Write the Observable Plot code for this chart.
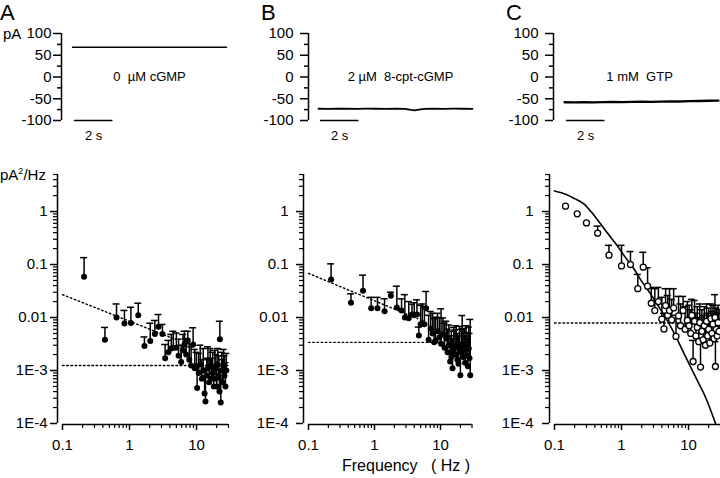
<!DOCTYPE html>
<html><head><meta charset="utf-8">
<script src="https://cdn.jsdelivr.net/npm/d3@7"></script>
<script src="https://cdn.jsdelivr.net/npm/@observablehq/plot@0.6"></script>
<style>
body{margin:0;background:#fff;}
#fig{position:relative;width:720px;height:478px;background:#fff;font-family:"Liberation Sans",Arial,Helvetica,sans-serif;color:#000;overflow:hidden}
#fig svg{position:absolute;overflow:visible}
.lbl{position:absolute;white-space:pre;line-height:1}
</style></head><body><div id="fig"></div>
<script>
// ---------- data: current traces (top row) ----------
const ampTicks = [-100, -50, 0, 50, 100];
const ampLabels = ["-100", "-50", "0", "50", "100"];
const ampMinor = [-75, -25, 25, 75];
const scaleBar = [0.1, 2.1];          // seconds
const scaleBarLabel = "2 s";

const traceTimeA = [0,0.5,1,1.5,2,2.5,3,3.5,4,4.5,5,5.5,6,6.5,7,7.5,8];
const traceA = [68.6,68.4,68.5,68.5,68.3,68.6,68.4,68.5,68.5,68.4,68.6,68.5,68.3,68.5,68.4,68.5,68.5];
const traceTimeB = [0,0.5,1,1.5,2,2.5,3,3.5,4,4.5,4.8,5.0,5.2,5.5,6,6.5,7,7.5,8];
const traceB = [-73,-73.2,-72.8,-73,-73.1,-72.9,-73,-73.2,-73,-73.3,-75.5,-76.5,-75,-73.5,-73,-73.1,-72.9,-73,-73.2];
const traceTimeC = [0,0.5,1,1.5,2,2.5,3,3.5,4,4.5,5,5.5,6,6.5,7,7.5,8];
const traceC = [-58,-58.4,-57.6,-58.2,-57.8,-57.5,-57.9,-57,-56.8,-57.2,-56.4,-56,-56.3,-55.5,-55.2,-54.6,-54.2];
const conditionA = "0  µM cGMP";
const conditionB = "2 µM  8-cpt-cGMP";
const conditionC = "1 mM  GTP";

// ---------- data: power spectra (bottom row) ----------
const yTicks = [1e-4, 1e-3, 0.01, 0.1, 1];
const yTickLabels = ["1E-4", "1E-3", "0.01", "0.1", "1"];
const xTicks = [0.1, 1, 10];
const xTickLabels = ["0.1", "1", "10"];

const freqA = [0.21,0.43,0.64,0.84,1.05,1.35,1.67,2.04,2.39,2.71,3.1,3.4,3.8,4.2,4.5,5.0,5.4,5.9,6.3,6.6,7.0,7.4,7.8,8.3,8.9,9.4,10.0,10.2,10.8,11.4,12.0,12.6,13.2,13.6,14.2,14.8,15.4,16.0,16.7,17.4,18.1,18.8,19.5,20.0,20.8,21.5,22.0,22.3,23.0,23.7,24.5,25.3,26.1,27.0,27.8];
const powerA = [0.059,0.0038,0.010,0.0077,0.0079,0.011,0.0029,0.0036,0.0049,0.0067,0.0049,0.0017,0.0022,0.0026,0.0027,0.0027,0.0019,0.00144,0.0024,0.0031,0.0020,0.0037,0.0016,0.00124,0.0031,0.0011,0.0012,0.00047,0.0009,0.0013,0.0007,0.0010,0.00037,0.00026,0.0008,0.0011,0.0006,0.0012,0.0007,0.0009,0.0005,0.0011,0.0007,0.0005,0.0013,0.0008,0.0004,0.0039,0.00025,0.0010,0.0006,0.0012,0.0008,0.0005,0.0010];
const upperA = [0.135,0.0065,0.018,0.0136,0.0156,0.0186,0.0043,0.0078,0.0088,0.0114,0.0074,0.0031,0.0037,0.0048,0.0055,0.0051,0.0039,0.0030,0.0048,0.0055,0.0040,0.0055,0.0032,0.0028,0.0064,0.0025,0.0022,0.0012,0.0021,0.0030,0.0016,0.0026,0.0011,0.0008,0.0017,0.0028,0.0016,0.0026,0.0017,0.0022,0.0013,0.0024,0.0020,0.0012,0.0026,0.0019,0.0010,0.0085,0.0007,0.0022,0.0016,0.0025,0.0019,0.0014,0.0021];
const slopeFreqA = [0.1, 4.5];
const slopePowerA = [0.027, 0.004];
const plateauA = 0.00124;

const freqB = [0.22,0.44,0.67,0.89,1.11,1.42,1.77,2.18,2.57,2.88,3.3,3.7,4.0,4.4,4.7,5.0,5.3,5.7,6.05,6.6,7.1,7.6,8.0,8.4,9.0,9.6,10.2,10.9,11.5,12.2,12.8,13.4,14.0,14.6,15.2,15.9,16.6,17.3,18.0,18.7,19.4,20.0,20.7,21.3,22.0,22.8,23.6,24.4,25.2,26.0,26.8,27.5,28.2];
const powerB = [0.052,0.019,0.032,0.015,0.015,0.0132,0.0257,0.0154,0.0135,0.010,0.0097,0.0114,0.0112,0.0114,0.0046,0.0075,0.0078,0.0075,0.015,0.0038,0.0062,0.0050,0.0034,0.0036,0.0055,0.0042,0.0032,0.0048,0.0027,0.0040,0.0022,0.0030,0.00148,0.0018,0.0011,0.0025,0.0020,0.0030,0.0016,0.00134,0.0026,0.00081,0.0022,0.0030,0.0018,0.0024,0.0014,0.0028,0.0019,0.0012,0.0026,0.0017,0.00081];
const upperB = [0.103,0.028,0.063,0.024,0.024,0.0226,0.030,0.039,0.0225,0.027,0.020,0.0177,0.019,0.0216,0.0066,0.017,0.018,0.016,0.031,0.011,0.013,0.012,0.0095,0.0101,0.012,0.010,0.0146,0.0098,0.0078,0.0085,0.0060,0.0072,0.0045,0.0055,0.0040,0.0065,0.0058,0.0070,0.0050,0.0045,0.0068,0.0030,0.0060,0.0109,0.0055,0.0062,0.0045,0.0070,0.0052,0.0040,0.0066,0.0050,0.0092];
const slopeFreqB = [0.1, 4.5];
const slopePowerB = [0.068, 0.0095];
const plateauB = 0.0034;

const freqC = [0.146,0.218,0.30,0.44,0.65,1.0,1.36,1.75,2.11,2.45,2.78,3.14,3.55,4.0,4.3,4.55,4.9,5.2,5.6,6.0,6.5,7.1,7.6,8.3,8.9,9.6,10.2,10.8,11.2,11.7,12.3,12.9,13.5,14.2,14.7,15.1,15.8,16.5,17.2,17.9,18.6,19.3,20.0,20.8,21.6,22.4,23.2,24.0,24.8,25.2,26.0,26.8,27.6,28.5];
const powerC = [1.26,0.905,0.61,0.39,0.15,0.094,0.10,0.035,0.089,0.039,0.0186,0.0135,0.020,0.0093,0.0061,0.0168,0.011,0.0135,0.0090,0.0152,0.0044,0.0107,0.0070,0.0135,0.0060,0.0088,0.0070,0.0050,0.011,0.00148,0.0085,0.0045,0.0065,0.0035,0.0080,0.00116,0.0055,0.0038,0.0070,0.0030,0.0085,0.0045,0.0060,0.0033,0.0095,0.0050,0.0075,0.0040,0.0100,0.00119,0.0060,0.0045,0.0080,0.0055];
const upperC = [null,null,null,0.53,0.23,0.23,0.176,0.065,0.17,0.087,0.037,0.035,0.037,0.024,0.012,0.035,0.026,0.035,0.022,0.035,0.011,0.025,0.018,0.025,0.016,0.020,0.017,0.014,0.022,0.0037,0.021,0.012,0.016,0.010,0.018,0.0035,0.014,0.011,0.016,0.009,0.018,0.012,0.015,0.0095,0.018,0.013,0.017,0.011,0.027,0.0035,0.015,0.012,0.017,0.014];
const fitFreqC = [0.1,0.15,0.2,0.274,0.35,0.486,0.65,0.86,1.15,1.53,2.0,2.71,3.6,4.8,6.4,8.5,11,13.5,18,25.3];
const fitPowerC = [2.45,2.1,1.75,1.40,1.0,0.586,0.36,0.228,0.135,0.083,0.048,0.028,0.016,0.0088,0.0045,0.00213,0.0011,0.00065,0.00031,0.0001];
const plateauC = 0.0079;

// ---------- layout helpers ----------
const FONT = '"Liberation Sans", Arial, Helvetica, sans-serif';
const fig = document.getElementById("fig");
function place(svg, left, top) { svg.style.left = left + "px"; svg.style.top = top + "px"; fig.appendChild(svg); }
function label(html, left, top, size) {
  const d = document.createElement("div");
  d.className = "lbl"; d.innerHTML = html;
  d.style.left = left + "px"; d.style.top = top + "px"; d.style.fontSize = size + "px";
  fig.appendChild(d);
}
const minorLog = [];
for (const dec of [1e-4, 1e-3, 0.01, 0.1, 1]) for (const m of [2,3,4,5,6,7,8,9]) if (dec * m <= 5.0001) minorLog.push(+(dec * m).toPrecision(3));
const xMinor = [0.2,0.3,0.4,0.5,0.6,0.7,0.8,0.9,2,3,4,5,6,7,8,9,20,30];
const blank = () => "";

function tracePanel({mL, inset, mR, times, values, sw, text, textX, pad}) {
  const data = times.map((t, i) => ({t, v: values[i]}));
  return Plot.plot({
    width: 240, height: 150, marginTop: 33, marginBottom: 30, marginLeft: mL, marginRight: mR,
    style: {fontFamily: FONT, fontSize: "15px", background: "transparent", overflow: "visible", color: "#000"},
    x: {domain: [0, 8], insetLeft: inset, axis: null},
    y: {domain: [-100, 100]},
    marks: [
      Plot.ruleX([0], {y1: -100, y2: 100, dx: -inset, strokeWidth: 1.5}),
      Plot.axisY(ampTicks, {tickSize: 8, tickPadding: pad, strokeWidth: 1.5, label: null,
        tickFormat: d => ampLabels[ampTicks.indexOf(d)]}),
      Plot.axisY(ampMinor, {tickSize: 4, strokeWidth: 1.5, label: null, tickFormat: blank}),
      Plot.line(data, {x: "t", y: "v", strokeWidth: sw}),
      Plot.ruleY([-100], {x1: scaleBar[0], x2: scaleBar[1], strokeWidth: 1.5}),
      Plot.text([scaleBarLabel], {x: (scaleBar[0] + scaleBar[1]) / 2, y: -100, dy: 15, fontSize: 13}),
      Plot.text([text], {x: textX, y: 0, fontSize: 13})
    ]
  });
}

function specPanel({mL, mR, pad, freq, power, upper, open, slopeF, slopeP, plateau, fitF, fitP}) {
  const pts = freq.map((f, i) => ({f, p: power[i], u: upper[i]}));
  const bars = pts.filter(d => d.u != null);
  const marks = [
    Plot.ruleX([0.1], {y1: 1e-4, y2: 5, dx: -5, strokeWidth: 1.5}),
    Plot.ruleY([1e-4], {x1: 0.1, x2: 30, dy: 1, strokeWidth: 1.5}),
    Plot.axisY(yTicks, {tickSize: 7, tickPadding: pad, strokeWidth: 1.5, label: null,
      tickFormat: d => yTickLabels[yTicks.indexOf(d)]}),
    Plot.axisY(minorLog, {tickSize: 4, strokeWidth: 1.2, label: null, tickFormat: blank}),
    Plot.axisX(xTicks, {tickSize: 6, tickPadding: 9, dy: 1, strokeWidth: 1.5, label: null,
      tickFormat: d => xTickLabels[xTicks.indexOf(d)]}),
    Plot.axisX(xMinor, {tickSize: 4, dy: 1, strokeWidth: 1.2, label: null, tickFormat: blank}),
    Plot.line([0.1, 30], {x: d => d, y: () => plateau, strokeWidth: 1.4, strokeDasharray: "1.6,2.6"}),
  ];
  if (slopeF) marks.push(Plot.line(slopeF.map((f, i) => ({f, p: slopeP[i]})), {x: "f", y: "p", strokeWidth: 1.4, strokeDasharray: "1.6,2.6"}));
  if (fitF) marks.push(Plot.line(fitF.map((f, i) => ({f, p: fitP[i]})), {x: "f", y: "p", strokeWidth: 1.6, curve: "monotone-x"}));
  marks.push(
    Plot.ruleX(bars, {x: "f", y1: "p", y2: "u", strokeWidth: 1.5}),
    Plot.ruleY(bars, {y: "u", x1: "f", x2: "f", insetLeft: -3.5, insetRight: -3.5, strokeWidth: 1.5}),
    open
      ? Plot.dot(pts, {x: "f", y: "p", r: 3, fill: "white", stroke: "black", strokeWidth: 1.3})
      : Plot.dot(pts, {x: "f", y: "p", r: 3, fill: "black", stroke: "none"})
  );
  return Plot.plot({
    width: 240, height: 310, marginTop: 24, marginBottom: 37, marginLeft: mL, marginRight: mR,
    style: {fontFamily: FONT, fontSize: "15px", background: "transparent", overflow: "visible", color: "#000"},
    x: {type: "log", domain: [0.1, 30], insetLeft: 5},
    y: {type: "log", domain: [1e-4, 5]},
    marks
  });
}

// ---------- top row ----------
place(tracePanel({mL: 61, inset: 11, mR: 14, times: traceTimeA, values: traceA, sw: 1.5, text: conditionA, textX: 4.0, pad: 2}), 0, 0);
place(tracePanel({mL: 68, inset: 10, mR: 8, times: traceTimeB, values: traceB, sw: 1.8, text: conditionB, textX: 4.26, pad: 7}), 240, 0);
place(tracePanel({mL: 73, inset: 11, mR: 2, times: traceTimeC, values: traceC, sw: 2.3, text: conditionC, textX: 3.9, pad: 7}), 480, 0);

// ---------- bottom row ----------
place(specPanel({mL: 57, mR: 12, pad: 3, freq: freqA, power: powerA, upper: upperA, open: false, slopeF: slopeFreqA, slopeP: slopePowerA, plateau: plateauA}), 0, 150);
place(specPanel({mL: 63, mR: 8.5, pad: 8, freq: freqB, power: powerB, upper: upperB, open: false, slopeF: slopeFreqB, slopeP: slopePowerB, plateau: plateauB}), 240, 150);
place(specPanel({mL: 69, mR: 0, pad: 9, freq: freqC, power: powerC, upper: upperC, open: true, plateau: plateauC, fitF: fitFreqC, fitP: fitPowerC}), 480, 150);

// ---------- free labels ----------
label("A", 0, 1.5, 22);
label("B", 261, 1.5, 22);
label("C", 506, 1.5, 22);
label("pA", 3, 25.8, 15);
label('pA<span style="font-size:9px;vertical-align:6px">2</span>/Hz', 0, 167, 15);
label("Frequency   ( Hz )", 342, 458, 16);
</script></body></html>
